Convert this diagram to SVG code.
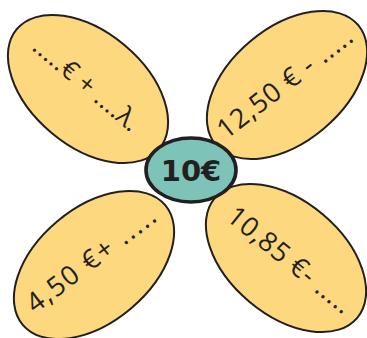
<svg xmlns="http://www.w3.org/2000/svg" width="367" height="338" viewBox="0 0 367 338">
<style>
.petal{fill:#fdd87f;stroke:#231f20;stroke-width:2}
.hub{fill:#7dc3b8;stroke:#231f20;stroke-width:3.6}
.pt{font-family:"Open Sans","Noto Sans","Liberation Sans",sans-serif;font-size:27px;fill:#231f20}
.ht{font-family:"DejaVu Sans","Open Sans","Liberation Sans",sans-serif;font-size:29px;font-weight:bold;fill:#231f20}
</style>
<rect width="367" height="338" fill="#ffffff"/>
<g id="connectors"></g>
<g id="petal-top-left">
<ellipse class="petal" cx="88" cy="89" rx="93" ry="57" transform="rotate(40 88 89)"/>
<text class="pt" style="font-size:26px" x="31" y="49" transform="rotate(40 31 49)" textLength="130" lengthAdjust="spacing">.....€ + ....λ.</text>
</g>
<g id="petal-top-right">
<ellipse class="petal" cx="287" cy="85" rx="93" ry="57" transform="rotate(-40 287 85)"/>
<text class="pt" x="226" y="140" transform="rotate(-37.8 226 140)" textLength="163" lengthAdjust="spacing">12,50 € - .....</text>
</g>
<g id="petal-bottom-left">
<ellipse class="petal" cx="94" cy="265" rx="93" ry="57" transform="rotate(-40 94 265)"/>
<text class="pt" x="35" y="314" transform="rotate(-37.4 35 314)" textLength="155" lengthAdjust="spacing">4,50 €+ .....</text>
</g>
<g id="petal-bottom-right">
<ellipse class="petal" cx="286" cy="258" rx="93" ry="57" transform="rotate(40 286 258)"/>
<text class="pt" x="225" y="219" transform="rotate(39.1 225 219)" textLength="152" lengthAdjust="spacing">10,85 €- .....</text>
</g>
<g id="center">
<ellipse class="hub" cx="191" cy="170" rx="45" ry="32"/>
<text class="ht" x="191" y="180.5" text-anchor="middle">10€</text>
</g>
</svg>
